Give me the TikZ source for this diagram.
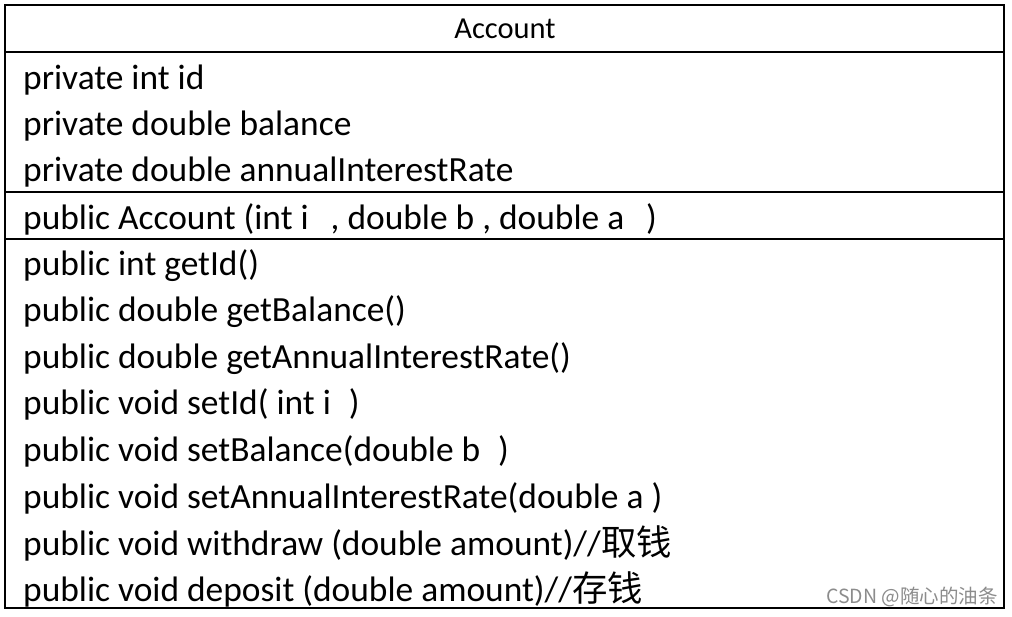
\documentclass[tikz,border=0pt]{standalone}
\usepackage{fontspec}
\setmainfont{Carlito}
\newfontfamily\cjk{Noto Sans CJK SC}
\begin{document}
\begin{tikzpicture}[x=1pt,y=1pt,
  member/.style={anchor=base west,inner sep=0pt,font=\fontsize{35.4}{40}\selectfont},
  header/.style={anchor=base,inner sep=0pt,font=\fontsize{30.5}{34}\selectfont},
  watermark/.style={anchor=base east,inner sep=0pt,text=black!45,font=\cjk\fontsize{19.5}{22}\selectfont}]
\useasboundingbox (0,0) rectangle (1012,616);
\fill[white] (0,0) rectangle (1012,616);
% box
\draw[line width=2pt] (5,8) rectangle (1004,611);
\draw[line width=1.5pt] (5,564) -- (1004,564);
\draw[line width=1.5pt] (5,424) -- (1004,424);
\draw[line width=1.5pt] (5,377) -- (1004,377);
\node[header] (title) at (505,577) {Account};
\node[member] (a1) at (23,526) {private int id};
\node[member] (a2) at (23,480) {private double balance};
\node[member] (a3) at (23,434) {private double annualInterestRate};
\node[member] (c1) at (23,386) {public Account (int i\hspace{22pt}, double b , double a\hspace{22pt})};
\node[member] (m1) at (23,340) {public int getId()};
\node[member] (m2) at (23,294) {public double getBalance()};
\node[member] (m3) at (23,247) {public double getAnnualInterestRate()};
\node[member] (m4) at (23,201) {public void setId( int i\hspace{18pt})};
\node[member] (m5) at (23,154) {public void setBalance(double b\hspace{18pt})};
\node[member] (m6) at (23,107) {public void setAnnualInterestRate(double a )};
\node[member] (m7) at (23,61) {public void withdraw (double amount)//{\cjk 取钱}};
\node[member] (m8) at (23,15) {public void deposit (double amount)//{\cjk 存钱}};
\node[watermark] (wm) at (998,13) {CSDN @随心的油条};
\end{tikzpicture}
\end{document}
